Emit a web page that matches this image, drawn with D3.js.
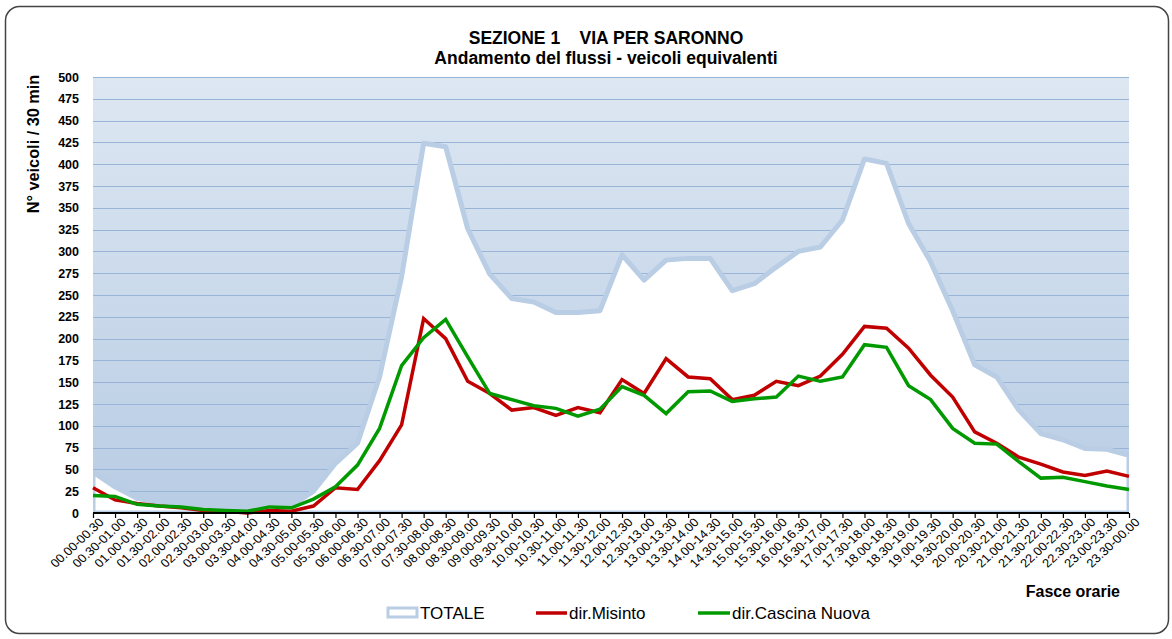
<!DOCTYPE html>
<meta charset="utf-8">
<style>
body { margin: 0; background: #fff; }
text { font-family: "Liberation Sans", Arial, sans-serif; }
.ytick text { font-weight: bold; font-size: 12.5px; }
.xtick text { font-size: 12px; }
</style>
<svg width="1172" height="639"></svg>
<script src="https://d3js.org/d3.v7.min.js"></script>
<script>

var fasce = ["00.00-00.30","00.30-01.00","01.00-01.30","01.30-02.00","02.00-02.30","02.30-03.00",
  "03.00-03.30","03.30-04.00","04.00-04.30","04.30-05.00","05.00-05.30","05.30-06.00",
  "06.00-06.30","06.30-07.00","07.00-07.30","07.30-08.00","08.00-08.30","08.30-09.00",
  "09.00-09.30","09.30-10.00","10.00-10.30","10.30-11.00","11.00-11.30","11.30-12.00",
  "12.00-12.30","12.30-13.00","13.00-13.30","13.30-14.00","14.00-14.30","14.30-15.00",
  "15.00-15.30","15.30-16.00","16.00-16.30","16.30-17.00","17.00-17.30","17.30-18.00",
  "18.00-18.30","18.30-19.00","19.00-19.30","19.30-20.00","20.00-20.30","20.30-21.00",
  "21.00-21.30","21.30-22.00","22.00-22.30","22.30-23.00","23.00-23.30","23.30-00.00"];

var totale = [47,30,17,12,8,5,4,2,10,8,25,57,80,156,271,424,420,326,274,246,242,230,230,232,
  296,267,290,292,292,255,263,282,300,305,336,406,401,332,288,232,170,156,118,91,84,74,73,66];

var misinto = [29,15,11,8,6,3,2,0,3,2,8,29,27,60,101,223,200,151,137,118,121,112,121,115,
  153,137,177,156,154,130,135,151,146,157,182,214,212,189,158,133,93,80,64,56,47,43,48,42];

var cascina = [20,19,10,8,7,4,3,2,7,6,16,30,55,97,169,201,222,179,137,130,123,120,111,119,
  145,135,114,139,140,128,131,133,157,151,156,193,190,146,130,97,80,79,59,40,41,36,31,27];

var yTicks = d3.range(0, 501, 25);

var svg = d3.select("svg");
var pLeft = 93, pRight = 1129, pTop = 77, pBottom = 513;

var x = d3.scalePoint().domain(fasce).range([pLeft, pRight]);
var y = d3.scaleLinear().domain([0, 500]).range([pBottom, pTop]);

// outer frame
svg.append("rect")
    .attr("x", 5.5).attr("y", 6.5)
    .attr("width", 1163).attr("height", 627)
    .attr("rx", 14).attr("ry", 14)
    .attr("fill", "#fff")
    .attr("stroke", "#444").attr("stroke-width", 1.5);

var defs = svg.append("defs");
var grad = defs.append("linearGradient").attr("id", "bg")
    .attr("x1", 0).attr("y1", 0).attr("x2", 0).attr("y2", 1);
grad.append("stop").attr("offset", "0%").attr("stop-color", "#dde7f2");
grad.append("stop").attr("offset", "100%").attr("stop-color", "#b8cce4");
defs.append("clipPath").attr("id", "plot")
  .append("rect").attr("x", pLeft).attr("y", pTop - 5)
    .attr("width", pRight - pLeft).attr("height", pBottom - pTop + 5);

svg.append("rect")
    .attr("x", pLeft).attr("y", pTop)
    .attr("width", pRight - pLeft).attr("height", pBottom - pTop)
    .attr("fill", "url(#bg)");

// gridlines
svg.append("g").selectAll("line")
  .data(yTicks.slice(1))
  .enter().append("line")
    .attr("x1", pLeft).attr("x2", pRight)
    .attr("y1", function(d) { return Math.round(y(d)) + 0.5; })
    .attr("y2", function(d) { return Math.round(y(d)) + 0.5; })
    .attr("stroke", "#98b5d8").attr("stroke-width", 1);

// TOTALE area
var area = d3.area()
    .x(function(d, i) { return x(fasce[i]); })
    .y0(y(0))
    .y1(function(d) { return y(d); });

svg.append("path")
    .datum(totale)
    .attr("clip-path", "url(#plot)")
    .attr("d", area)
    .attr("fill", "#fff")
    .attr("stroke", "#b9cde5")
    .attr("stroke-width", 5)
    .attr("stroke-linejoin", "round");

var line = d3.line()
    .x(function(d, i) { return x(fasce[i]); })
    .y(function(d) { return y(d); });

svg.append("path")
    .datum(misinto)
    .attr("d", line)
    .attr("fill", "none")
    .attr("stroke", "#c00000")
    .attr("stroke-width", 3.5);

svg.append("path")
    .datum(cascina)
    .attr("d", line)
    .attr("fill", "none")
    .attr("stroke", "#009a00")
    .attr("stroke-width", 3.5);

// y axis labels
var yAxis = svg.append("g").attr("class", "ytick")
    .attr("transform", "translate(" + (pLeft - 8) + ",0)")
    .call(d3.axisLeft(y).tickValues(yTicks).tickSize(0).tickPadding(6));
yAxis.select(".domain").remove();
yAxis.selectAll("text").attr("fill", "#000");

// x axis
var xAxis = svg.append("g").attr("class", "xtick")
    .attr("transform", "translate(0," + pBottom + ")")
    .call(d3.axisBottom(x).tickSize(5).tickSizeOuter(0));
xAxis.select(".domain").attr("stroke", "#000").attr("stroke-width", 2)
    .attr("d", "M" + pLeft + ",0H" + pRight);
xAxis.selectAll(".tick line").attr("stroke", "#000").attr("stroke-width", 1.2);
xAxis.selectAll("text")
    .attr("fill", "#000")
    .attr("text-anchor", "end")
    .attr("y", 0).attr("dy", 0)
    .attr("transform", "translate(11,10) scale(1.08,1) rotate(-45)");

// titles
svg.append("text")
    .attr("x", 606).attr("y", 44)
    .attr("text-anchor", "middle")
    .style("font-weight", "bold").style("font-size", "17.5px")
    .attr("xml:space", "preserve")
    .text("SEZIONE 1    VIA PER SARONNO");
svg.append("text")
    .attr("x", 606).attr("y", 64)
    .attr("text-anchor", "middle")
    .style("font-weight", "bold").style("font-size", "17.5px")
    .text("Andamento del flussi - veicoli equivalenti");

svg.append("text")
    .attr("transform", "translate(39,144) rotate(-90)")
    .attr("text-anchor", "middle")
    .style("font-weight", "bold").style("font-size", "16.3px")
    .text("N° veicoli / 30 min");

svg.append("text")
    .attr("x", 1120).attr("y", 597)
    .attr("text-anchor", "end")
    .style("font-weight", "bold").style("font-size", "16px")
    .text("Fasce orarie");

// legend
var lg = svg.append("g").style("font-size", "17px");
lg.append("rect")
    .attr("x", 388).attr("y", 608).attr("width", 29).attr("height", 9)
    .attr("fill", "#fff").attr("stroke", "#b9cde5").attr("stroke-width", 3);
lg.append("text").attr("x", 420).attr("y", 619).text("TOTALE");
lg.append("line").attr("x1", 536).attr("x2", 567).attr("y1", 613).attr("y2", 613)
    .attr("stroke", "#c00000").attr("stroke-width", 3.5);
lg.append("text").attr("x", 569).attr("y", 619).text("dir.Misinto");
lg.append("line").attr("x1", 698).attr("x2", 730).attr("y1", 613).attr("y2", 613)
    .attr("stroke", "#009a00").attr("stroke-width", 3.5);
lg.append("text").attr("x", 732).attr("y", 619).text("dir.Cascina Nuova");

</script>
